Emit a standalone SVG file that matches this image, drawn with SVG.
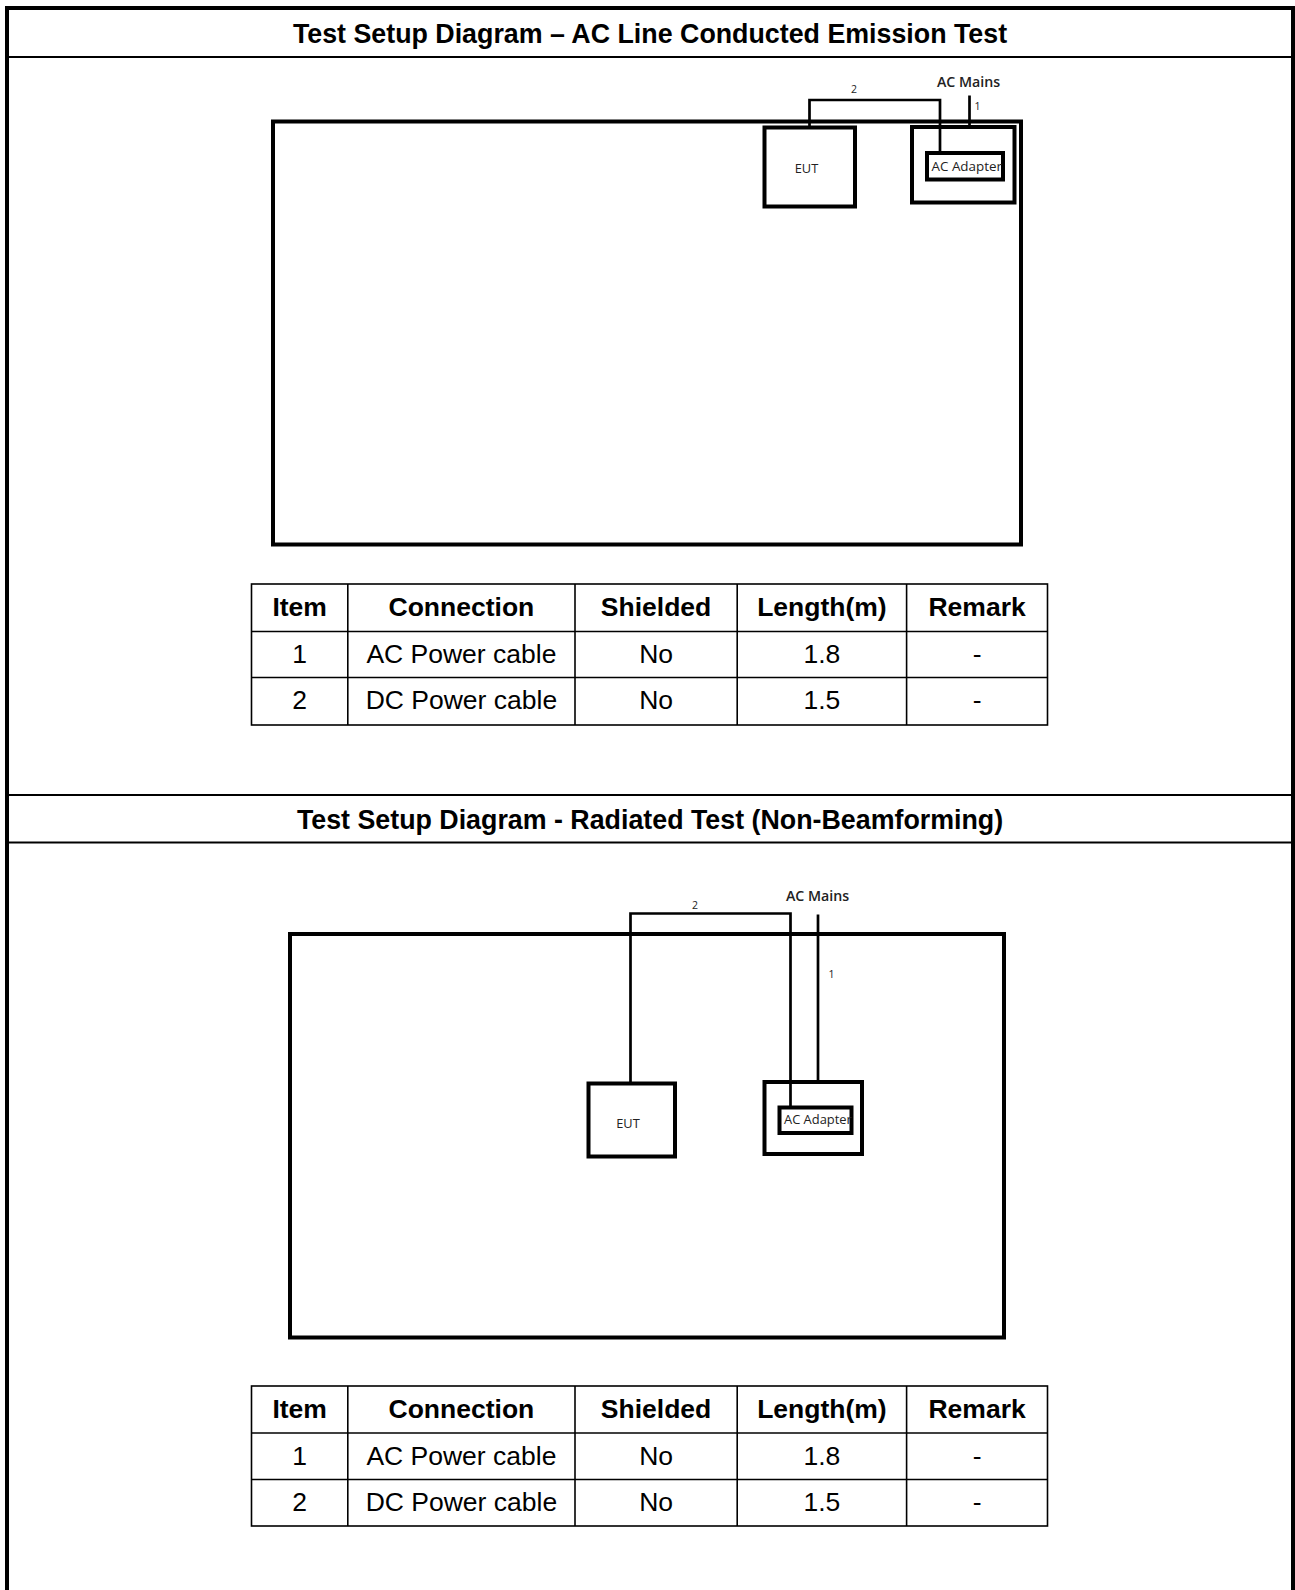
<svg xmlns="http://www.w3.org/2000/svg" width="1295" height="1590" viewBox="0 0 1295 1590">
<style>
.frame{fill:none;stroke:#000;stroke-width:4}
.sep{stroke:#000;stroke-width:1.8}
.title{font-family:"Liberation Sans",Arial,sans-serif;font-weight:bold;font-size:26.8px;text-anchor:middle;fill:#000}
.bench{fill:none;stroke:#000;stroke-width:4}
.cable{fill:none;stroke:#000;stroke-width:2.7}
.lbl{font-family:"Open Sans","Noto Sans",sans-serif;fill:#222}
.mains{font-size:14.2px;font-weight:600;text-anchor:middle}
.num{font-size:10.5px;text-anchor:middle}
.eut{font-size:12.8px;text-anchor:middle}
.ad{font-size:13.4px}
.tbl{fill:none;stroke:#000;stroke-width:1.6}
.th{font-family:"Liberation Sans",Arial,sans-serif;font-weight:bold;font-size:26.5px;text-anchor:middle;fill:#000}
.td{font-family:"Liberation Sans",Arial,sans-serif;font-size:26.5px;text-anchor:middle;fill:#000}
</style>
<rect width="1295" height="1590" fill="#fff"/>
<g id="page-frame">
<path class="frame" d="M7 1590 V8 H1293 V1590"/>
<line class="sep" x1="7" y1="57" x2="1293" y2="57"/>
<line class="sep" x1="7" y1="795" x2="1293" y2="795"/>
<line class="sep" x1="7" y1="842.5" x2="1293" y2="842.5"/>
</g>
<g id="title-1"><text class="title" x="650" y="42.5">Test Setup Diagram – AC Line Conducted Emission Test</text></g>
<g id="title-2"><text class="title" x="650" y="829">Test Setup Diagram - Radiated Test (Non-Beamforming)</text></g>

<!-- Diagram 1 -->
<g id="bench-1"><rect class="bench" x="273" y="121.5" width="748" height="423"/></g>
<g id="connectors-1">
<path class="cable" d="M809.5 127.5 V100 H940 V153"/>
<path class="cable" d="M969.5 95.5 V127"/>
<text class="lbl num" x="854" y="93">2</text>
<text class="lbl num" x="977.5" y="109.5">1</text>
</g>
<g id="ac-mains-1"><text class="lbl mains" x="968.5" y="86.5">AC Mains</text></g>
<g id="eut-1">
<rect class="bench" x="764.5" y="127.5" width="90.5" height="79"/>
<text class="lbl eut" x="806.5" y="172.5">EUT</text>
</g>
<g id="adapter-1">
<rect class="bench" x="912" y="127" width="102.5" height="75.5"/>
<rect class="bench" x="927" y="153" width="76" height="26.5"/>
<text class="lbl ad" x="931.5" y="171">AC Adapter</text>
</g>

<!-- Table 1 -->
<g id="table-1">
<rect class="tbl" x="251.5" y="584" width="796" height="141"/>
<line class="tbl" x1="251.5" y1="631.5" x2="1047.5" y2="631.5"/>
<line class="tbl" x1="251.5" y1="677.5" x2="1047.5" y2="677.5"/>
<line class="tbl" x1="347.8" y1="584" x2="347.8" y2="725"/>
<line class="tbl" x1="575" y1="584" x2="575" y2="725"/>
<line class="tbl" x1="737.2" y1="584" x2="737.2" y2="725"/>
<line class="tbl" x1="906.6" y1="584" x2="906.6" y2="725"/>
<text class="th" x="299.7" y="616">Item</text>
<text class="th" x="461.4" y="616">Connection</text>
<text class="th" x="656.1" y="616">Shielded</text>
<text class="th" x="821.9" y="616">Length(m)</text>
<text class="th" x="977.1" y="616">Remark</text>
<text class="td" x="299.7" y="662.5">1</text>
<text class="td" x="461.4" y="662.5">AC Power cable</text>
<text class="td" x="656.1" y="662.5">No</text>
<text class="td" x="821.9" y="662.5">1.8</text>
<text class="td" x="977.1" y="662.5">-</text>
<text class="td" x="299.7" y="709">2</text>
<text class="td" x="461.4" y="709">DC Power cable</text>
<text class="td" x="656.1" y="709">No</text>
<text class="td" x="821.9" y="709">1.5</text>
<text class="td" x="977.1" y="709">-</text>
</g>

<!-- Diagram 2 -->
<g id="bench-2"><rect class="bench" x="290" y="934" width="714" height="403.5"/></g>
<g id="connectors-2">
<path class="cable" d="M630.5 1083.5 V913.5 H790.5 V1107.5"/>
<path class="cable" d="M818 914.5 V1082"/>
<text class="lbl num" x="695" y="908.5">2</text>
<text class="lbl num" x="831.5" y="978">1</text>
</g>
<g id="ac-mains-2"><text class="lbl mains" x="817.5" y="901">AC Mains</text></g>
<g id="eut-2">
<rect class="bench" x="588.5" y="1083.5" width="86.5" height="73"/>
<text class="lbl eut" x="628" y="1127.5">EUT</text>
</g>
<g id="adapter-2">
<rect class="bench" x="764.5" y="1082" width="97.5" height="72"/>
<rect class="bench" x="779.5" y="1107.5" width="72" height="25.5"/>
<text class="lbl ad" x="784" y="1123.5" style="font-size:12.9px">AC Adapter</text>
</g>

<!-- Table 2 -->
<g id="table-2">
<rect class="tbl" x="251.5" y="1386" width="796" height="140"/>
<line class="tbl" x1="251.5" y1="1433" x2="1047.5" y2="1433"/>
<line class="tbl" x1="251.5" y1="1479.5" x2="1047.5" y2="1479.5"/>
<line class="tbl" x1="347.8" y1="1386" x2="347.8" y2="1526"/>
<line class="tbl" x1="575" y1="1386" x2="575" y2="1526"/>
<line class="tbl" x1="737.2" y1="1386" x2="737.2" y2="1526"/>
<line class="tbl" x1="906.6" y1="1386" x2="906.6" y2="1526"/>
<text class="th" x="299.7" y="1418">Item</text>
<text class="th" x="461.4" y="1418">Connection</text>
<text class="th" x="656.1" y="1418">Shielded</text>
<text class="th" x="821.9" y="1418">Length(m)</text>
<text class="th" x="977.1" y="1418">Remark</text>
<text class="td" x="299.7" y="1464.5">1</text>
<text class="td" x="461.4" y="1464.5">AC Power cable</text>
<text class="td" x="656.1" y="1464.5">No</text>
<text class="td" x="821.9" y="1464.5">1.8</text>
<text class="td" x="977.1" y="1464.5">-</text>
<text class="td" x="299.7" y="1511">2</text>
<text class="td" x="461.4" y="1511">DC Power cable</text>
<text class="td" x="656.1" y="1511">No</text>
<text class="td" x="821.9" y="1511">1.5</text>
<text class="td" x="977.1" y="1511">-</text>
</g>
</svg>
